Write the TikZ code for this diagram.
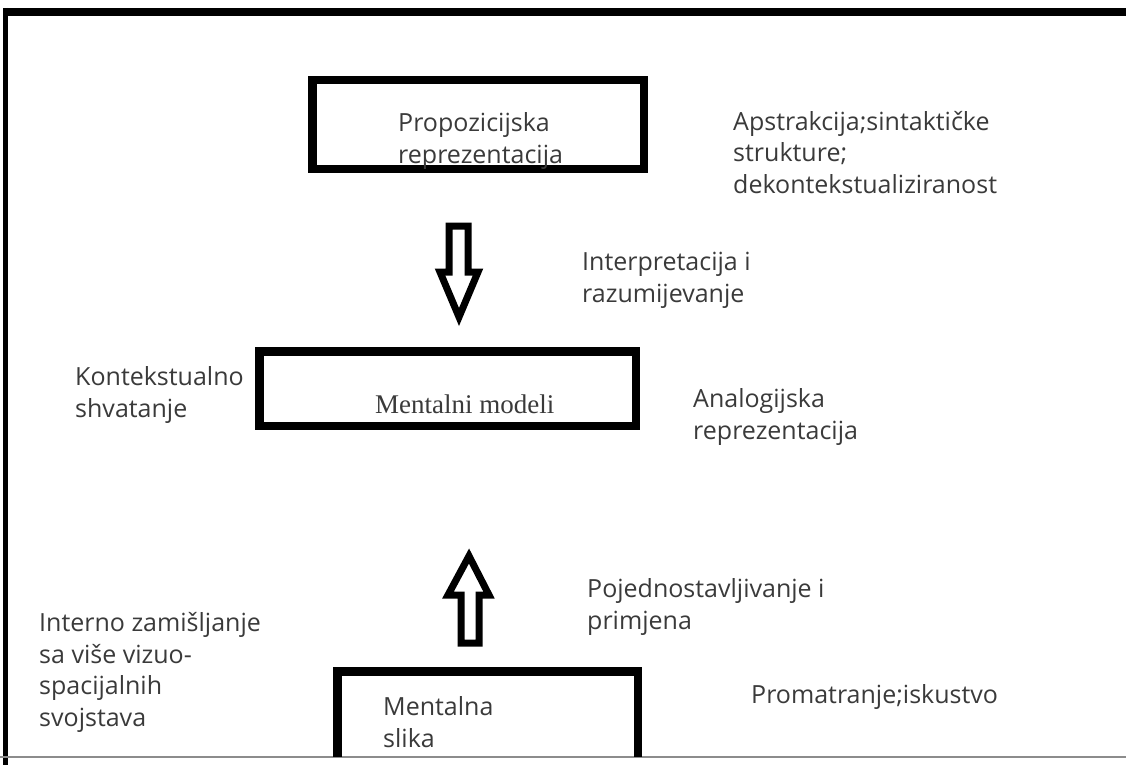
\documentclass[tikz,border=0pt]{standalone}
\usepackage{fontspec}
\setmainfont{Open Sans}
\newfontfamily\modelfont{Liberation Serif}
\definecolor{txtgray}{HTML}{3A3A3A}
\begin{document}
\begin{tikzpicture}[x=1pt,y=-1pt,
            boxframe/.style={draw,line width=8.5pt,inner sep=0pt},
            lbl/.style={anchor=base west,inner sep=0pt,text=txtgray,
              font=\fontsize{25}{31.5}\selectfont,align=left},
            blockarrow/.style={draw,line width=7pt,line join=miter,fill=white}]
            \useasboundingbox(0,0)rectangle(1126,765);
            % outer frame
            \draw[line width=8pt](5,12)--(1130,12);
            \draw[line width=5pt](5,8)--(5,765);
            \draw[line width=1.5pt,black!45](0,757)--(1126,757);
            % boxes
            \node[boxframe,minimum width=331.5pt,minimum height=88.5pt](prop)at(478,124.5){};
            \node[boxframe,minimum width=376.5pt,minimum height=74.5pt](model)at(447.5,388.5){};
            \begin{scope}
              \clip(0,0)rectangle(1126,756);
              \coordinate(slikaL)at(337.25,771.25);
              \coordinate(slikaR)at(637.75,771.25);
              \draw[line width=8.5pt](slikaL)--++(0,-100)-|(slikaR);
            \end{scope}
            % box texts (base = last line)
            \node[lbl](proptxt)at(398,163){Propozicijska\\reprezentacija};
            \node[anchor=base west,inner sep=0pt,text=txtgray,
              font=\modelfont\fontsize{27}{30}\selectfont](modeltxt)at(375,413){Mentalni modeli};
            \node[lbl](slikatxt)at(383,747){Mentalna\\slika};
            % block arrows
            \draw[blockarrow](449,226)--(468,226)--(468,272)--(478,272)--(459,317)
              --(440,272)--(449,272)--cycle;
            \draw[blockarrow](461,643)--(479,643)--(479,595)--(489,595)--(469,556)
              --(448,595)--(461,595)--cycle;
            % side labels
            \node[lbl](apstr)at(733,193){Apstrakcija;sintaktičke\\strukture;\\dekontekstualiziranost};
            \node[lbl](interp)at(582,302){Interpretacija i\\razumijevanje};
            \node[lbl](kontekst)at(75,417){Kontekstualno\\shvatanje};
            \node[lbl](analog)at(693,439){Analogijska\\reprezentacija};
            \node[lbl](pojed)at(587,629){Pojednostavljivanje i\\primjena};
            \node[lbl](interno)at(39,726){Interno zamišljanje\\sa više vizuo-\\spacijalnih\\svojstava};
            \node[lbl](promat)at(751,703){Promatranje;iskustvo};
          \end{tikzpicture}
\end{document}
